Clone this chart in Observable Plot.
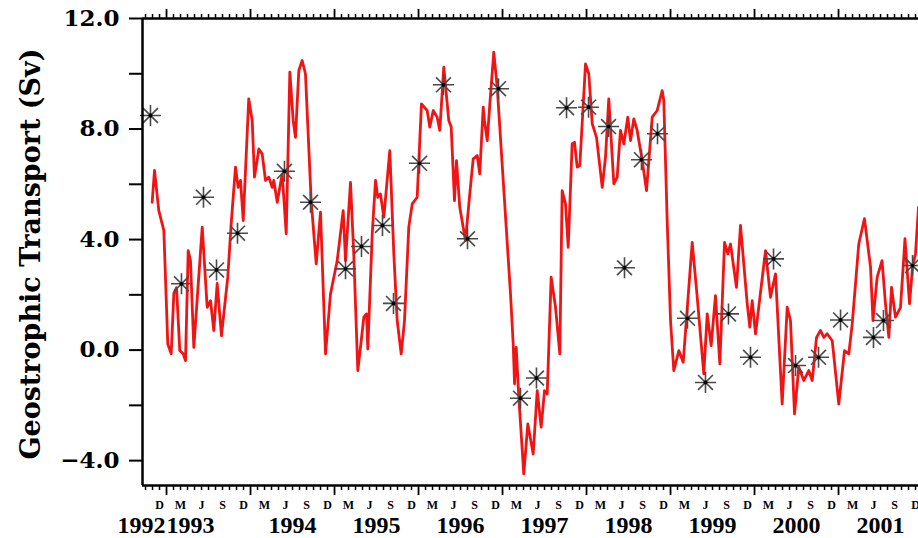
<!DOCTYPE html>
<html><head><meta charset="utf-8">
<script src="https://cdn.jsdelivr.net/npm/d3@7"></script>
<script src="https://cdn.jsdelivr.net/npm/@observablehq/plot@0.6"></script>
<style>body{margin:0;background:#fff}</style>
</head><body><div id="chart"></div>
<script>
const lineYears = [1992.829,1992.857,1992.908,1992.968,1993.015,1993.056,1993.087,1993.119,1993.158,1993.199,
1993.226,1993.258,1993.285,1993.325,1993.425,1993.484,1993.524,1993.563,1993.603,1993.654,
1993.729,1993.770,1993.821,1993.853,1993.881,1993.913,1993.979,1994.020,1994.047,1994.099,
1994.139,1994.178,1994.218,1994.258,1994.277,1994.318,1994.377,1994.425,1994.468,1994.508,
1994.535,1994.575,1994.615,1994.654,1994.722,1994.782,1994.833,1994.893,1994.952,1995.032,
1995.103,1995.131,1995.190,1995.229,1995.277,1995.318,1995.349,1995.381,1995.396,1995.449,
1995.488,1995.515,1995.547,1995.587,1995.658,1995.706,1995.746,1995.794,1995.833,1995.884,
1995.925,1995.984,1996.035,1996.103,1996.134,1996.175,1996.222,1996.253,1996.301,1996.360,
1996.389,1996.428,1996.452,1996.491,1996.559,1996.610,1996.651,1996.699,1996.729,1996.770,
1996.785,1996.818,1996.849,1996.896,1996.937,1997.095,1997.127,1997.143,1997.163,1997.194,
1997.253,1997.301,1997.365,1997.413,1997.460,1997.500,1997.532,1997.579,1997.631,1997.682,
1997.710,1997.750,1997.782,1997.829,1997.857,1997.889,1997.920,1997.988,1998.027,1998.068,
1998.119,1998.187,1998.226,1998.265,1998.325,1998.365,1998.404,1998.444,1998.491,1998.524,
1998.563,1998.603,1998.663,1998.714,1998.782,1998.841,1998.901,1998.920,1998.960,1999.000,
1999.039,1999.099,1999.151,1999.258,1999.318,1999.396,1999.437,1999.484,1999.535,1999.587,
1999.643,1999.682,1999.714,1999.785,1999.833,1999.913,1999.944,1999.972,2000.012,2000.131,
2000.190,2000.250,2000.329,2000.389,2000.428,2000.476,2000.527,2000.587,2000.646,2000.687,
2000.738,2000.785,2000.825,2000.865,2000.925,2001.003,2001.071,2001.122,2001.163,2001.241,
2001.309,2001.381,2001.410,2001.460,2001.518,2001.559,2001.599,2001.631,2001.678,2001.738,
2001.791,2001.845,2001.881,2001.916,2001.952];
const lineValues = [5.35,6.50,5.05,4.33,0.22,-0.13,2.05,2.26,-0.02,-0.13,
-0.38,3.60,3.24,0.10,4.45,1.55,1.79,0.71,2.41,0.52,
2.64,4.58,6.62,5.89,6.14,4.69,9.09,8.31,6.26,7.28,
7.10,6.14,6.26,5.89,6.14,5.35,6.38,4.21,10.06,8.31,
7.70,10.12,10.48,10.00,5.41,3.12,4.99,-0.14,2.03,3.24,
5.05,3.24,6.07,3.48,-0.74,0.34,1.19,1.31,0.04,4.21,
6.14,5.53,5.65,4.81,7.22,3.48,1.07,-0.14,1.07,4.45,
5.29,5.53,8.91,8.67,8.07,8.67,8.43,7.95,10.24,8.31,
8.07,5.41,6.86,5.17,3.96,5.65,6.92,7.04,6.38,8.79,
8.31,7.58,8.91,10.78,9.51,2.03,0.22,-1.22,0.10,-1.71,
-4.48,-2.67,-3.76,-1.47,-2.79,-1.47,-1.59,2.64,1.55,-0.14,
5.77,5.29,3.72,7.46,7.52,6.62,6.68,10.36,10.00,8.19,
7.70,5.89,6.98,9.09,6.02,6.26,7.95,7.46,8.43,7.58,
8.37,7.95,6.86,5.77,8.43,8.67,9.39,9.03,4.69,1.07,
-0.74,-0.02,-0.44,3.90,1.91,-0.86,1.31,0.16,1.97,-0.50,
3.90,3.48,3.84,2.27,4.51,1.67,0.83,1.79,0.59,3.60,
1.91,2.76,-1.95,1.55,1.07,-2.31,-0.62,-1.10,-0.74,-1.10,
0.46,0.71,0.46,0.59,0.34,-1.95,-0.02,-0.14,0.95,3.84,
4.76,3.00,1.07,2.64,3.24,1.67,0.46,2.27,1.19,1.55,
4.03,1.68,3.00,3.48,5.17];

const starYears = [1992.809,1993.178,1993.440,1993.595,1993.845,1994.404,1994.714,1995.131,1995.321,1995.571,
1995.702,1996.012,1996.297,1996.583,1996.952,1997.214,1997.404,1997.762,1998.024,1998.262,
1998.452,1998.654,1998.845,1999.202,1999.416,1999.690,1999.952,2000.226,2000.488,2000.762,
2001.024,2001.416,2001.535,2001.881];
const starValues = [8.49,2.40,5.53,2.90,4.23,6.47,5.35,2.94,3.75,4.51,
1.69,6.76,9.60,4.03,9.46,-1.74,-1.01,8.77,8.79,8.09,
2.98,6.89,7.83,1.15,-1.17,1.31,-0.26,3.30,-0.56,-0.26,
1.09,0.46,1.07,3.06];

const xDomain = [1992.714, 2001.952];
const yDomain = [-4.9, 12];
const yLabelTicks = [-4, 0, 4, 8, 12];
const yMinorTicks = [-2, 2, 6, 10];
const monthLabelMonths = [12, 3, 6, 9];
const monthLabelLetters = ["D", "M", "J", "S"];
const yearLabels = [1992, 1993, 1994, 1995, 1996, 1997, 1998, 1999, 2000, 2001];
const yAxisTitle = "Geostrophic Transport (Sv)";

const series = lineYears.map((t, i) => ({t, v: lineValues[i]}));
const stars = starYears.map((t, i) => ({t, v: starValues[i]}));

// monthly tick positions (start of each month) inside the x domain
const months = d3.range(12 * 1992, 12 * 2002).map(m => ({m, t: m / 12}))
  .filter(d => d.t >= xDomain[0] && d.t <= xDomain[1]);
const monthTicks = months.filter(d => d.m % 12 !== 0).map(d => d.t);
const janTicks = months.filter(d => d.m % 12 === 0).map(d => d.t);
const letterTicks = months.filter(d => monthLabelMonths.includes((d.m % 12) + 1)).map(d => d.t);
const letterFor = t => monthLabelLetters[monthLabelMonths.indexOf((Math.round(t * 12) % 12) + 1)];

const asterisk8 = {
  draw(ctx, size) {
    const r = Math.sqrt(size / Math.PI);
    for (let i = 0; i < 4; i++) {
      const a = i * Math.PI / 4;
      ctx.moveTo(r * Math.cos(a), r * Math.sin(a));
      ctx.lineTo(-r * Math.cos(a), -r * Math.sin(a));
    }
  }
};

const yearFont = {fontSize: 24, fontWeight: "bold", fontFamily: "Liberation Serif", fill: "#000", lineAnchor: "middle"};

const chart = Plot.plot({
  width: 918, height: 538,
  marginLeft: 142, marginRight: 0, marginTop: 18, marginBottom: 53,
  x: {domain: xDomain, label: null},
  y: {domain: yDomain, label: null},
  style: {background: "#fff", overflow: "visible", color: "#000"},
  marks: [
    Plot.line(series, {x: "t", y: "v", stroke: "#f01414", strokeWidth: 2.8, clip: true, strokeLinejoin: "round"}),
    Plot.dot(stars, {x: "t", y: "v", symbol: asterisk8, r: 10.5, stroke: "#4a4a4a", fill: "none", strokeWidth: 1.6}),
    Plot.dot(stars, {x: "t", y: "v", r: 1.9, fill: "#000", stroke: "none"}),
    Plot.ruleX([xDomain[0]], {stroke: "#000", strokeWidth: 2.5}),
    Plot.ruleY([yDomain[1], yDomain[0]], {stroke: "#000", strokeWidth: 2.5}),
    Plot.axisY({ticks: yLabelTicks, tickSize: 13, tickPadding: 10, tickFormat: d3.format(".1f"), fontSize: 23, fontWeight: "bold", fontFamily: "DejaVu Serif", strokeWidth: 2, label: null}),
    Plot.axisY({ticks: yMinorTicks, tickSize: 13, tickFormat: () => "", strokeWidth: 2, label: null}),
    Plot.axisX({anchor: "bottom", ticks: monthTicks, tickSize: 5, tickFormat: () => "", strokeWidth: 1.5, label: null}),
    Plot.axisX({anchor: "bottom", ticks: janTicks, tickSize: 10, tickFormat: () => "", strokeWidth: 1.8, label: null}),
    Plot.axisX({anchor: "top", ticks: monthTicks, tickSize: 5, tickFormat: () => "", strokeWidth: 1.5, label: null}),
    Plot.axisX({anchor: "top", ticks: janTicks, tickSize: 10, tickFormat: () => "", strokeWidth: 1.8, label: null}),
    Plot.axisX({anchor: "bottom", ticks: letterTicks, tickSize: 0, tickPadding: 15, tickFormat: letterFor, fontSize: 12, fontWeight: "bold", fontFamily: "Liberation Serif", label: null}),
    Plot.text(yearLabels.slice(0, 1), {x: d => d + 1, text: d => String(d), frameAnchor: "bottom", dy: 40, dx: -1, textAnchor: "end", ...yearFont}),
    Plot.text(yearLabels.slice(1, 2), {x: d => d, text: d => String(d), frameAnchor: "bottom", dy: 40, dx: 0, textAnchor: "start", ...yearFont}),
    Plot.text(yearLabels.slice(2), {x: d => d + 0.5, text: d => String(d), frameAnchor: "bottom", dy: 40, textAnchor: "middle", ...yearFont})
  ]
});
document.getElementById("chart").append(chart);

// rotated y-axis title in the left margin
d3.select(chart).append("text")
  .attr("transform", "translate(30,254) rotate(-90)")
  .attr("text-anchor", "middle")
  .attr("dominant-baseline", "central")
  .attr("font-family", "DejaVu Serif")
  .attr("font-weight", "bold")
  .attr("font-size", 27)
  .attr("fill", "#000")
  .text(yAxisTitle);
</script>
</body></html>
